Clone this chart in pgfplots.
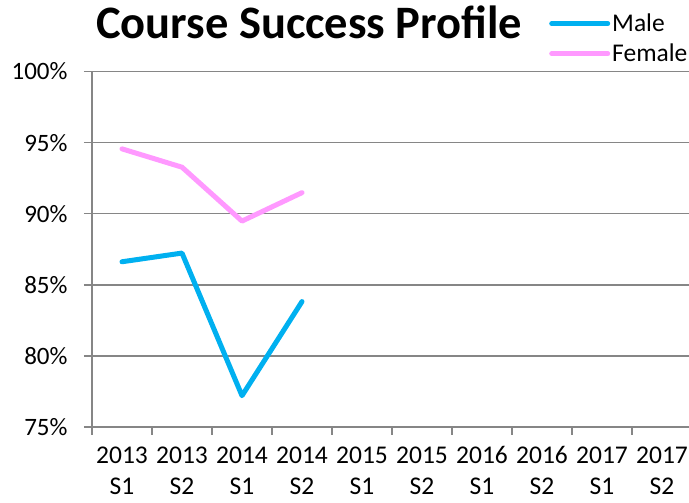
\documentclass[border=0pt]{standalone}
\usepackage{pgfplots}
\pgfplotsset{compat=1.18}
\usepackage{fontspec}
\setmainfont{Carlito}
\definecolor{male}{HTML}{00B0F0}
\definecolor{female}{HTML}{FF99FF}
\definecolor{gridc}{HTML}{868686}
\begin{document}
\begin{tikzpicture}[x=1pt,y=1pt]
\useasboundingbox (0,0) rectangle (689,503);
\begin{axis}[
  at={(92pt,76pt)}, anchor=south west,
  scale only axis, width=600pt, height=355.5pt,
  xmin=-0.5, xmax=9.5, ymin=75, ymax=100,
  axis x line*=bottom, axis y line*=left,
  axis line style={gridc, line width=1.5pt, -},
  /pgf/number format/assume math mode=true,
  ytick={75,80,...,100},
  yticklabel={\pgfmathprintnumber{\tick}\%},
  yticklabel style={font=\fontsize{25}{30}\selectfont, xshift=-13pt},
  ymajorgrids, grid style={gridc, line width=1.5pt},
  xtick={-0.5,0.5,...,9.5},
  x tick label as interval,
  xticklabels={{2013\\S1},{2013\\S2},{2014\\S1},{2014\\S2},{2015\\S1},{2015\\S2},{2016\\S1},{2016\\S2},{2017\\S1},{2017\\S2}},
  xticklabel style={align=center, font=\fontsize{25.5}{31}\selectfont, yshift=-8pt},
  tick style={gridc, line width=1.5pt},
  major tick length=8pt,
  tick align=outside,
  title={Course Success Profile},
  title style={at={(0.362,1.076)}, anchor=base, font=\fontsize{46.5}{52}\selectfont\bfseries, inner sep=0pt},
  legend style={at={(0.7617,1.168)}, anchor=north west, draw=none, fill=none, font=\fontsize{25.5}{30}\selectfont, inner sep=0pt, row sep=7pt},
  legend cell align=left,
  legend image code/.code={\draw[#1] (0pt,0pt) -- (56pt,0pt);},
]
\addplot[male, line width=5pt, line cap=round, line join=round] coordinates {(0,86.62)(1,87.23)(2,77.2)(3,83.82)};
\addlegendentry{Male}
\addplot[female, line width=5pt, line cap=round, line join=round] coordinates {(0,94.56)(1,93.27)(2,89.48)(3,91.48)};
\addlegendentry{Female}
\end{axis}
\end{tikzpicture}
\end{document}
